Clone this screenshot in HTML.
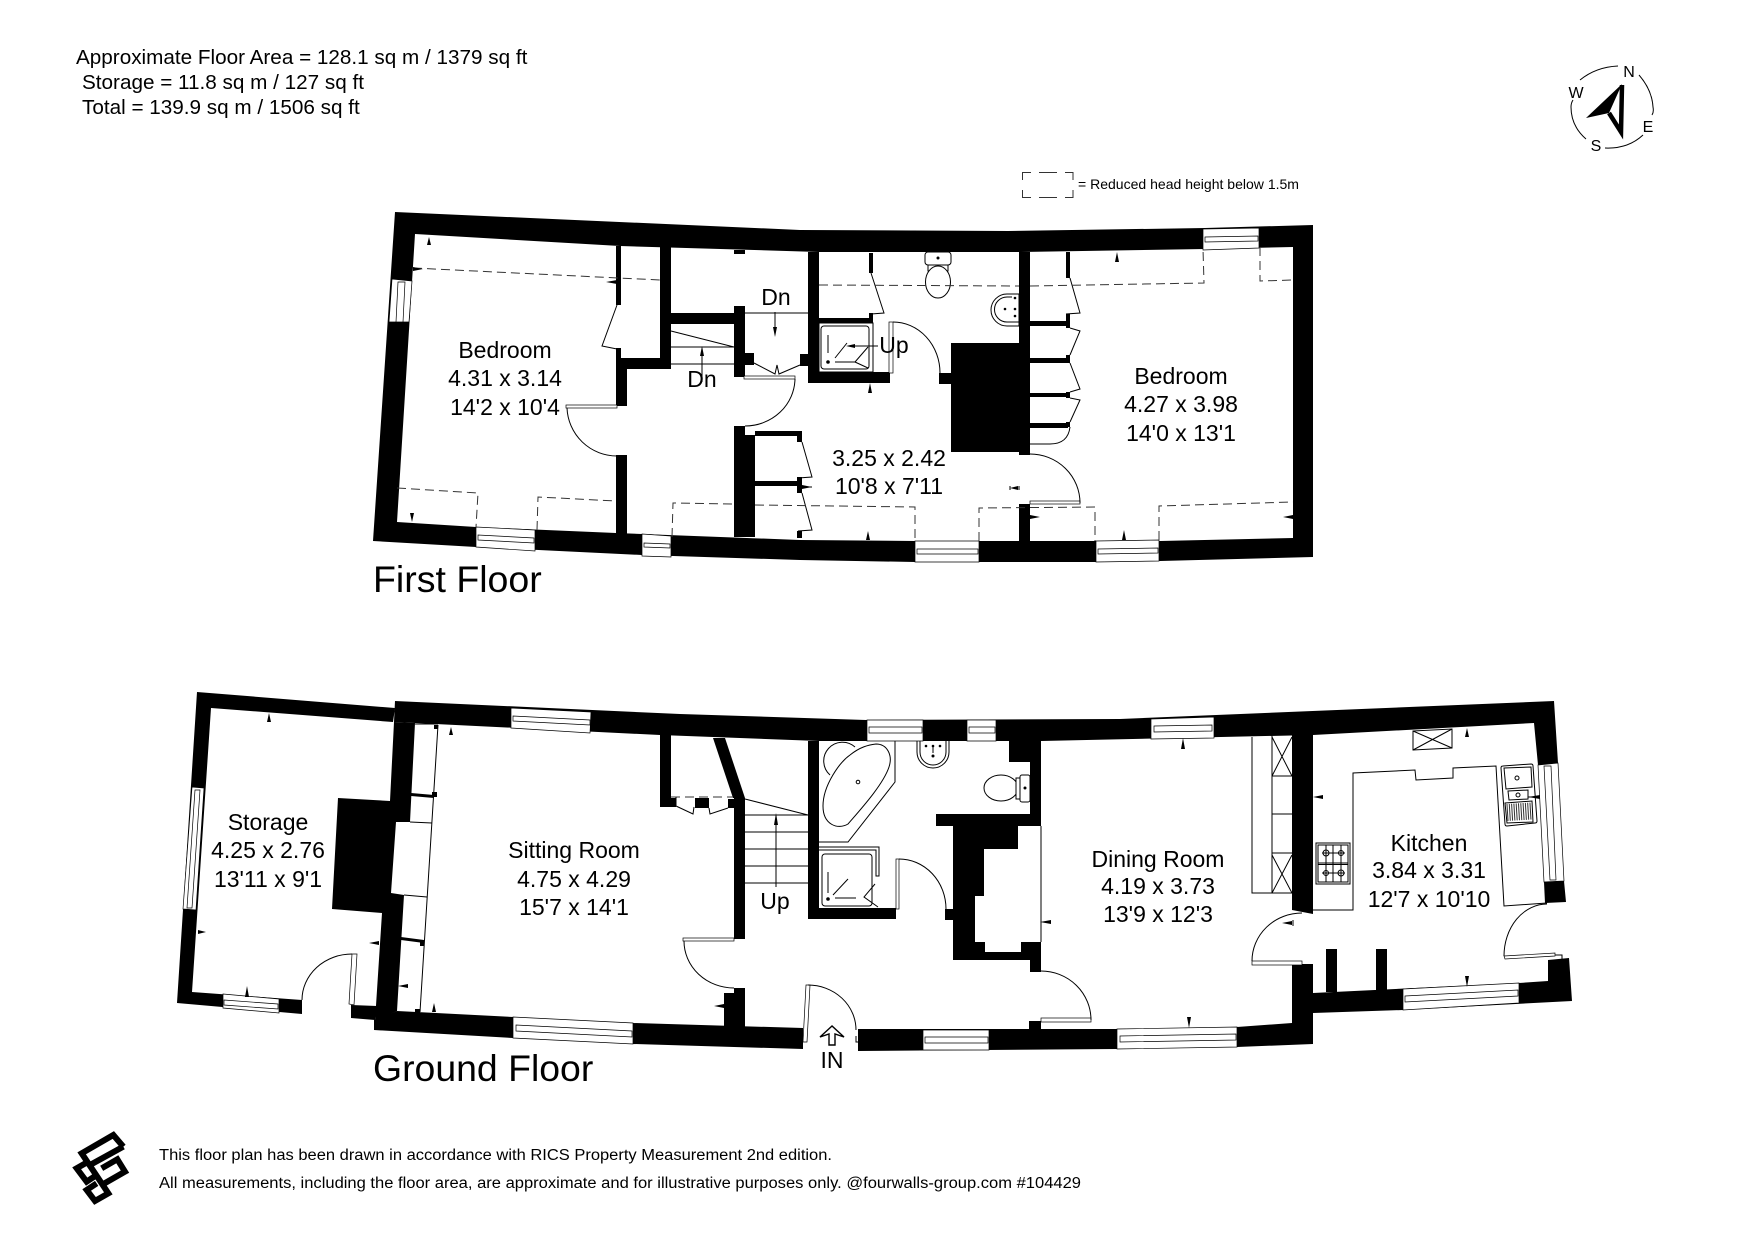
<!DOCTYPE html>
<html><head><meta charset="utf-8"><style>
html,body{margin:0;padding:0;background:#fff}
svg{display:block}
text{font-family:"Liberation Sans",sans-serif;fill:#000}
.l{fill:none;stroke:#000;stroke-width:1}
.d{fill:none;stroke:#333;stroke-width:1;stroke-dasharray:9 5}
.w{fill:#fff;stroke:#000;stroke-width:.7}
.m{text-anchor:middle;font-size:23px}
</style></head><body>
<svg width="1755" height="1240" viewBox="0 0 1755 1240" xmlns="http://www.w3.org/2000/svg">
<rect width="1755" height="1240" fill="#fff"/>

<!-- header -->
<text x="76" y="64" font-size="20.700">Approximate Floor Area = 128.1 sq m / 1379 sq ft</text>
<text x="82" y="89" font-size="20.700">Storage = 11.8 sq m / 127 sq ft</text>
<text x="82" y="114" font-size="20.700">Total = 139.9 sq m / 1506 sq ft</text>

<!-- compass -->
<g font-size="16" text-anchor="middle">
<text x="1629" y="77">N</text><text x="1576" y="98">W</text><text x="1648" y="132">E</text><text x="1596" y="151">S</text>
</g>
<path class="l" d="M1580,80 Q1596,67 1618,66 M1639,75 Q1652,90 1653,107 Q1654,112 1652,115 M1643,135 Q1628,149 1605,148 M1586,139 Q1571,126 1571,107 Q1571,103 1573,100"/>
<path d="M1622,84 L1586,118 L1609,113 Z"/>
<path d="M1622,85 L1621,132 L1609,113" fill="none" stroke="#000" stroke-width="4.500"/>

<!-- legend -->
<path fill="none" stroke="#333" stroke-width="1" d="M1022.500,180 V172.500 H1031 M1039,172.500 H1057 M1065,172.500 H1073 V180 M1022.500,190 V197.500 H1031 M1039,197.500 H1057 M1065,197.500 H1073 V190"/>
<text x="1078" y="189" font-size="14" textLength="221" lengthAdjust="spacingAndGlyphs">= Reduced head height below 1.5m</text>

<!-- ============ FIRST FLOOR ============ -->
<path fill-rule="evenodd" d="M395,212 L800,230 L1008,231 L1205,228 L1313,225 L1313,557 L1160,561 L1097,562 L915,562 L800,560 L642,555 L476,547 L373,541 Z M415,234 L620,246 L819,252 L1021,252 L1205,249 L1293,247 L1293,538 L1160,541 L915,541 L800,540 L616,533 L476,527 L397,522 Z"/>
<!-- interior walls -->
<path d="M616,246H621V305H616Z M616,348H621V360H616Z M616,358H671V369H616Z M660,247H671V369H660Z M616,358H627V406H616Z M616,455H627V534H616Z
M671,313H735V324H671Z M734,306H745V377H734Z M745,353H754V365H745Z M734,250H745V254H734Z
M808,252H819V383H808Z M800,354H808V366H800Z M819,318H873V323H819Z M808,372H890V383H808Z M869,253H873V273H869Z M869,313H873V323H869Z
M734,426H745V435H755V537H734Z M755,431H802V436H755Z M797,431H802V442H797Z M755,481H798V486H755Z M797,477H802V493H797Z M797,531H802V538H797Z"/>
<g transform="translate(-2,0)">
<path d="M953,343H1032V452H953Z M1021,252H1032V455H1021Z M941,373H953V384H941Z M1021,504H1032V541H1021Z
M1068,252H1072V278H1068Z M1068,314H1072V328H1068Z M1032,321H1070V326H1032Z M1068,355H1072V363H1068Z M1032,358H1070V363H1032Z M1068,392H1072V398H1068Z M1032,393H1070V397H1032Z M1068,422H1072V427H1068Z M1032,423H1070V428H1032Z"/>
<rect class="w" x="891" y="322" width="4" height="51"/><path class="l" d="M895,322 A47,51 0 0 1 942,373"/>
<rect class="w" x="1032" y="501" width="50" height="3"/><path class="l" d="M1032,454 A50,49 0 0 1 1082,503"/>
<path class="l" d="M1072,278 L1082,313 L1068,314 M1072,328 L1082,331 L1072,355 M1072,363 L1082,389 L1072,392 M1072,398 L1082,400 L1072,422 M1072,427 Q1070,444 1052,444 H1032"/>
<!-- toilet FF -->
<rect class="l" x="927" y="252" width="26" height="13" rx="3"/><rect class="l" x="930" y="265" width="20" height="6"/>
<ellipse class="l" cx="940" cy="282" rx="12.500" ry="16" style="fill:#fff"/><circle cx="940" cy="258" r="1.500"/>
<!-- basin FF -->
<path class="l" d="M1021,294 H1009 A16,16 0 0 0 1009,326 H1021 V294 Z M1014,297 H1009 A12,12 0 0 0 1009,322 H1021"/>
<circle cx="1007" cy="309" r="1.300"/><circle cx="1017" cy="298" r="1.300"/><circle cx="1017" cy="309" r="1.300"/><circle cx="1017" cy="316" r="1.300"/>
<path d="M1119,252 l-2,10 h4z M1285,517 l10,-2 v4z M1042,517 l-10,-2 v4z M1012,488 l8,-2 v4z"/>
<path class="l" d="M1012,486V490 M1021,486V490"/>
</g>
<!-- windows -->
<polygon class="w" points="392,279 412,281 409,322 389,322"/><polygon class="w" points="398,282 405,282 403,322 396,322"/>
<polygon class="w" points="476,527 535,530 535,551 476,547"/><polygon class="w" points="478,535 534,538 534,543 478,540"/>
<polygon class="w" points="642,534 671,536 671,557 642,556"/><polygon class="w" points="644,543 670,544 670,548 644,547"/>
<polygon class="w" points="915,541 979,541 979,562 915,562"/><polygon class="w" points="917,549 978,549 978,554 917,554"/>
<polygon class="w" points="1096,541 1159,540 1159,561 1096,562"/><polygon class="w" points="1098,549 1158,548 1158,553 1098,554"/>
<polygon class="w" points="1203,229 1259,228 1259,248 1203,250"/><polygon class="w" points="1205,237 1258,236 1258,241 1205,242"/>
<!-- doors -->
<rect class="w" x="566" y="405" width="51" height="3"/><path class="l" d="M567,408 A50,50 0 0 0 617,456"/>
<rect class="w" x="744" y="376" width="51" height="3"/><path class="l" d="M795,379 A50,48 0 0 1 745,426"/>
<path class="l" d="M617,305 L602,346 L617,349 M754,363 L775,374 L777,365 L779,374 L800,365 M871,273 L884,313 L871,314
M802,442 L812,477 L798,478 M802,493 L812,530 L798,531"/>
<!-- stairs -->
<path class="l" d="M671,331 L734,347 M671,347 H734 M671,364 H734 M702,382 V350 M745,313 H808 M775,312 V332"/>
<path d="M702,346 l-2,10 h4z M775,337 l-2,-10 h4z"/>
<!-- dashed -->
<path class="d" d="M413,268 L660,280 M397,488 L478,493 L476,527 M537,530 L538,497 L616,501 M672,537 L673,503 L734,504 M755,505 L915,507 L915,541 M979,541 L979,508 L1095,507 L1095,541 M1159,540 L1159,506 L1293,502 M819,285 L1019,286 M1030,286 L1204,283 L1203,249 M1260,247 L1260,281 L1293,280"/>
<!-- shower FF -->
<rect class="l" x="819" y="323" width="54" height="49"/>
<rect class="l" x="821" y="326" width="48" height="43" rx="3" stroke="#222"/>
<path class="l" d="M828,335 V353 M835,358 L847,343 M835,362 H855 M855,362 L868,347 M855,362 L868,368 M848,346 H878"/>
<circle cx="828" cy="362" r="1.800"/><path d="M846,346 l9,-2 v4z"/>
<!-- ticks FF -->
<path d="M429,237 l-2,8 h4z M423,269 l-10,-2 v4z M606,282 l11,-2 v4z M412,522 l-2,-9 h4z M870,383 l-2,10 h4z M868,531 l-2,9 h4z M1124,530 l-2,10 h4z M812,487 l-10,-2 v4z"/>
<path class="l" d="M802,487H812"/>
<!-- labels FF -->
<text class="m" x="505" y="358">Bedroom</text><text class="m" x="505" y="386">4.31 x 3.14</text><text class="m" x="505" y="415">14'2 x 10'4</text>
<text class="m" x="1181" y="384">Bedroom</text><text class="m" x="1181" y="412">4.27 x 3.98</text><text class="m" x="1181" y="441">14'0 x 13'1</text>
<text class="m" x="889" y="466">3.25 x 2.42</text><text class="m" x="889" y="494">10'8 x 7'11</text>
<text class="m" x="776" y="305">Dn</text><text class="m" x="702" y="387">Dn</text><text class="m" x="894" y="353">Up</text>
<text x="373" y="592" font-size="37.500">First Floor</text>

<!-- ============ GROUND FLOOR ============ -->
<!-- storage walls -->
<path d="M197,692 L395,708 L393,722 L211,708 L192,992 L302,1000 L302,1014 L177,1003 Z"/>
<path d="M351,1005 L377,1006 L375,1020 L351,1018 Z"/>
<!-- central wall + chimney -->
<path d="M394,722 L415,723 L410,822 L396,822 L391,893 L404,895 L397,1011 L375,1021 L382,913 L332,909 L338,798 L390,801 Z"/>
<!-- main top wall -->
<path d="M395,701 L680,714 L866,720 L1120,719 L1554,701 L1558,763 L1538,765 L1534,723 L1313,735 L1041,741 L819,741 L660,735 L415,723 L394,722 Z"/>
<!-- bottom walls -->
<path d="M374,1020 L397,1011 L513,1017 L513,1038 L374,1030 Z M633,1023 L803,1028 L803,1049 L633,1044 Z M513,1017 L633,1023 L633,1044 L513,1038 Z
M858,1029 L1117,1029 L1117,1049 L858,1051 Z
M1117,1029 L1237,1027 L1237,1047 L1117,1049 Z
M1237,1027 L1292,1023 L1292,964 L1313,964 L1313,993 L1519,983 L1548,981 L1548,960 L1569,958 L1572,1001 L1403,1010 L1313,1013 L1313,1044 L1237,1047 Z
M1544,882 L1564,881 L1566,902 L1545,903 Z
M1326,949H1337V992H1326Z M1376,949H1387V990H1376Z
M1029,1021H1041V1029H1029Z"/>
<!-- interior walls -->
<path d="M660,735H671V807H660Z M671,798H676V807H671Z M695,798H709V808H695Z M728,799H745V808H728Z
M713,738 L725,738 L745,798 L733,798 Z M734,798H745V939H734Z
M724,993H734V988H745V1027H724Z
M808,741H819V918H808Z M808,908H896V919H808Z
M945,909H953V920H945Z
M1030,741H1041V826H1030Z M1009,741H1030V762H1009Z M936,814H1041V826H936Z
M953,826 L1018,826 L1018,849 L984,849 L984,896 L975,896 L975,942 L985,942 L985,952 L1021,952 L1021,942 L1041,942 L1041,972 L1030,972 L1030,960 L953,960 Z
M1292,735H1313V914 L1292,910 Z"/>
<!-- windows GF -->
<polygon class="w" points="192,787 204,788 196,910 183,909"/><polygon class="w" points="195,790 200,790 192,908 187,908"/>
<polygon class="w" points="223,994 279,999 279,1013 223,1008"/><polygon class="w" points="224,1000 278,1004 278,1009 224,1005"/>
<polygon class="w" points="511,708 591,712 590,733 511,728"/><polygon class="w" points="513,716 590,720 590,725 513,721"/>
<polygon class="w" points="513,1017 633,1023 633,1044 513,1038"/><polygon class="w" points="516,1025 632,1031 632,1037 516,1031"/>
<polygon class="w" points="867,720 923,720 923,741 867,741"/><polygon class="w" points="869,727 922,727 922,733 869,733"/>
<polygon class="w" points="967,720 996,720 996,741 967,741"/><polygon class="w" points="969,727 995,727 995,733 969,733"/>
<polygon class="w" points="1151,719 1214,717 1214,738 1151,739"/><polygon class="w" points="1154,726 1212,725 1212,731 1154,732"/>
<polygon class="w" points="1538,765 1558,763 1564,881 1544,882"/><polygon class="w" points="1544,766 1551,766 1556,880 1550,880"/>
<polygon class="w" points="1403,989 1519,983 1519,1003 1403,1010"/><polygon class="w" points="1405,996 1518,990 1518,996 1405,1002"/>
<polygon class="w" points="1117,1029 1237,1027 1237,1047 1117,1049"/><polygon class="w" points="1120,1036 1236,1034 1236,1040 1120,1042"/>
<polygon class="w" points="923,1030 989,1030 989,1050 923,1050"/><polygon class="w" points="925,1037 988,1037 988,1043 925,1043"/>
<!-- doors GF -->
<polygon class="w" points="352,954 357,954 354,1005 349,1004"/><path class="l" d="M302,1000 A50,46 0 0 1 352,954"/>
<rect class="w" x="683" y="938" width="51" height="3"/><path class="l" d="M684,941 A50,47 0 0 0 734,988"/>
<polygon class="w" points="806,985 810,985 807,1042 803,1042"/><path class="l" d="M808,985 A48,45 0 0 1 856,1030"/>
<path class="l" d="M856,1036V1042H858"/>
<rect class="w" x="896" y="859" width="3" height="50"/><path class="l" d="M899,859 A47,50 0 0 1 946,909"/>
<rect class="w" x="1041" y="1018" width="50" height="4"/><path class="l" d="M1041,971 A50,49 0 0 1 1091,1020"/>
<rect class="w" x="1252" y="961" width="50" height="4"/><path class="l" d="M1252,961 A50,48 0 0 1 1302,913"/>
<polygon class="w" points="1504,956 1555,953 1555,956 1505,959"/><path class="l" d="M1547,904 A43,52 0 0 0 1504,956 M1555,955 H1562 V960"/>
<!-- cupboards left of sitting room -->
<path class="l" d="M438,725 L420,1012 M410,822 L432,823 M404,895 L427,897 M415,724 H438"/>
<path d="M411,793 L434,795 L434,798 L411,796 Z M401,937 L424,940 L424,943 L401,940 Z M432,792H437V797H432Z M420,941H424V946H420Z M415,1009H420V1013H415Z M434,725H438V729H434Z"/>
<path class="d" d="M671,797 H733" stroke-dasharray="8 4"/>
<path class="l" d="M676,797 L676,806 L693,814 L694,807 M709,808 L710,814 L728,808"/>
<!-- stairs GF -->
<path class="l" d="M745,799 L808,815 M745,815 H808 M745,832 H808 M745,849 H808 M745,866 H808 M745,883 H808 M776,887 V820"/>
<path d="M776,813 l-2,12 h4z"/>
<!-- bath -->
<path class="l" d="M819,842 H848 L895,782 V741"/>
<path class="l" d="M830,775 A17,17 0 1 1 855,747"/>
<path class="l" style="fill:#fff" d="M876,744 C887,744 893,755 889,767 C883,785 860,810 848,824 C838,830 823,825 823,806 C823,785 840,762 850,755 C860,747 868,745 876,744 Z"/>
<circle class="l" cx="858" cy="782" r="1.800"/>
<!-- shower GF -->
<path class="l" d="M819,847 H879 V876 H876 V850 H819"/>
<rect class="l" x="822" y="854" width="50" height="52" rx="3"/>
<path class="l" d="M828,872 V893 M833,895 L848,879 M835,898 H856 M875,884 L864,897 L878,907"/>
<circle cx="828" cy="899" r="1.800"/>
<!-- toilet GF -->
<ellipse class="l" cx="1001" cy="788" rx="17" ry="13" style="fill:#fff"/>
<rect class="l" x="1016" y="778" width="5" height="21" style="fill:#fff"/>
<rect class="l" x="1020" y="775" width="10" height="27" rx="2" style="fill:#fff"/>
<circle cx="1025" cy="788" r="1.500"/>
<!-- basin GF -->
<path class="l" d="M917,741 V752 A16,16 0 0 0 949,752 V741 M920,741 V752 A13,13 0 0 0 946,752 V741"/>
<circle cx="926" cy="746" r="1.300"/><circle cx="933" cy="746" r="1.300"/><circle cx="940" cy="746" r="1.300"/><circle cx="933" cy="756" r="1.500"/>
<path class="l" d="M933,746V753" stroke-width="1.500"/>
<!-- pantry -->
<path class="l" d="M1252,737 V893 H1292 M1272,736 V893 M1272,776 H1292 M1272,814 H1292 M1272,853 H1292 M1272,737 L1292,776 M1292,737 L1272,776 M1272,855 L1292,893 M1292,855 L1272,893"/>
<!-- Kitchen counter -->
<path class="l" d="M1313,910 H1353 V773 L1415,770 L1416,780 L1453,778 L1453,768 L1496,766 L1504,906 L1547,903"/>
<polygon class="l" points="1413,731 1452,729 1452,748 1413,750"/>
<path class="l" d="M1413,731 L1452,748 M1452,729 L1413,750"/>
<!-- hob -->
<rect class="l" x="1316" y="843" width="34" height="41"/><rect class="l" x="1318" y="845" width="30" height="37"/>
<path class="l" d="M1318,863 H1348 M1318,864.500 H1348 M1333,845 V882 M1322,853 H1345 M1322,873 H1345 M1326,845 V882 M1341,845 V882" stroke-width=".6"/>
<circle class="l" cx="1326" cy="853" r="3"/><circle class="l" cx="1341" cy="853" r="2.500"/><circle class="l" cx="1326" cy="873" r="2.500"/><circle class="l" cx="1341" cy="873" r="3"/>
<!-- sink -->
<path class="l" d="M1503,766 L1531,764 Q1533,764 1533,766 L1537,821 Q1537,823 1535,823 L1507,826 Q1505,826 1505,824 L1501,768 Q1501,766 1503,766 Z"/>
<polygon class="l" points="1504,768 1531,767 1532,787 1506,789"/>
<polygon class="l" points="1508,791 1528,790 1528,799 1509,800"/>
<polygon class="l" points="1505,803 1532,801 1533,822 1507,823"/>
<path d="M1507,812.500 L1532,811" fill="none" stroke="#333" stroke-width="17" stroke-dasharray="1 1.300"/>
<circle class="l" cx="1517" cy="778" r="2"/><circle class="l" cx="1518" cy="795" r="2"/>
<!-- ticks GF -->
<path d="M269,713 l-2,9 h4z M451,727 l-2,8 h4z M206,932 l-8,-2 v4z M369,943 l10,-2 v4z M247,986 l-2,11 h4z M434,1003 l-2,9 h4z M398,986 l10,-2 v4z M714,1006 l10,-2 v4z M1040,922 l11,-2 v4z M1183,738 l-2,11 h4z M1313,797 l10,-2 v4z M1467,728 l-2,9 h4z M1528,797 l12,-2 v4z M1282,923 l10,-2 v4z M1467,987 l-2,-11 h4z M1189,1028 l-2,-11 h4z"/>
<path class="l" d="M1041,826 V942 M1293,920V926 M1528,797 H1540"/>
<!-- IN arrow -->
<path fill="#fff" stroke="#000" stroke-width="1.400" d="M832,1026 L820,1037 L829,1034 V1045 H835 V1034 L844,1037 Z"/>
<!-- labels GF -->
<text class="m" x="268" y="830">Storage</text><text class="m" x="268" y="858">4.25 x 2.76</text><text class="m" x="268" y="887">13'11 x 9'1</text>
<text class="m" x="574" y="858">Sitting Room</text><text class="m" x="574" y="887">4.75 x 4.29</text><text class="m" x="574" y="915">15'7 x 14'1</text>
<text class="m" x="1158" y="867">Dining Room</text><text class="m" x="1158" y="894">4.19 x 3.73</text><text class="m" x="1158" y="922">13'9 x 12'3</text>
<text class="m" x="1429" y="851">Kitchen</text><text class="m" x="1429" y="878">3.84 x 3.31</text><text class="m" x="1429" y="907">12'7 x 10'10</text>
<text class="m" x="775" y="909">Up</text><text class="m" x="832" y="1068">IN</text>
<text x="373" y="1081" font-size="37.400">Ground Floor</text>

<!-- logo -->
<g transform="translate(60,1130) scale(.3333)" fill="none" stroke="#000" stroke-width="18">
<path d="M190,50 L160,15 L65,70 L145,190 L105,213 L80,180 L110,160"/>
<path d="M90,105 L190,50"/>
<path d="M110,135 L80,155 L50,115 L85,95"/>
<path d="M125,115 L172,88 L195,125 L125,165"/>
</g>

<!-- footer -->
<text x="159" y="1160" font-size="15.300" textLength="673" lengthAdjust="spacingAndGlyphs">This floor plan has been drawn in accordance with RICS Property Measurement 2nd edition.</text>
<text x="159" y="1188" font-size="15.300" textLength="922" lengthAdjust="spacingAndGlyphs">All measurements, including the floor area, are approximate and for illustrative purposes only. @fourwalls-group.com #104429</text>
</svg>
</body></html>
